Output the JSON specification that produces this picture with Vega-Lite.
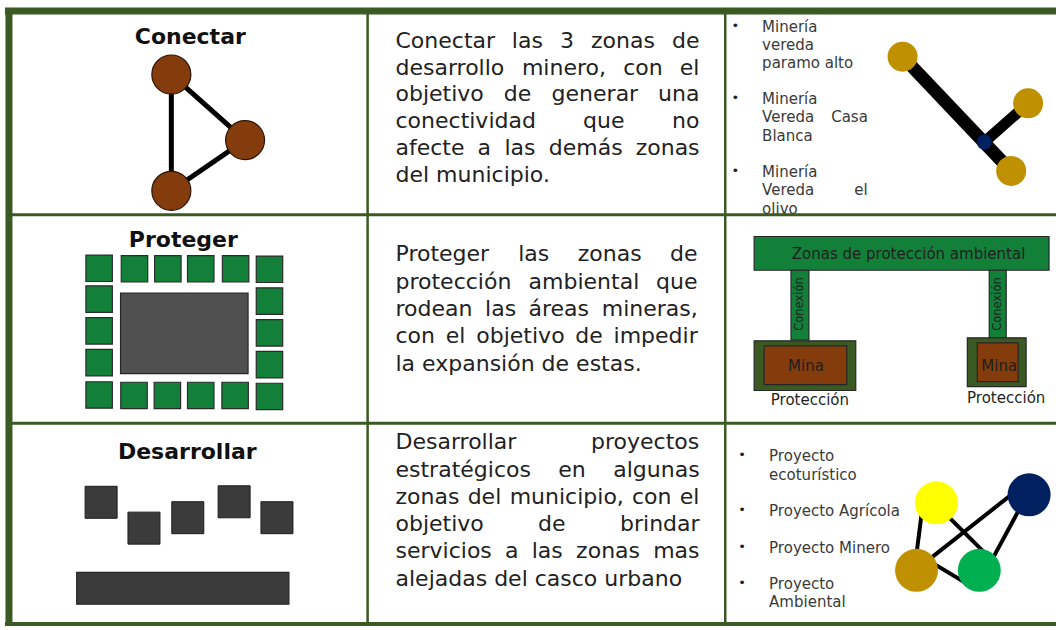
{
  "$schema": "https://vega.github.io/schema/vega-lite/v6.json",
  "width": 1060,
  "height": 630,
  "autosize": {"type": "fit", "contains": "padding"},
  "padding": 0,
  "background": "#ffffff",
  "config": {"view": {"stroke": null}},
  "datasets": {
    "rects": [
      {"x": 757, "x2": 1053, "y": 238, "y2": 272, "tipo": "zona"},
      {"x": 794, "x2": 812, "y": 272, "y2": 342, "tipo": "conexion"},
      {"x": 993, "x2": 1010, "y": 272, "y2": 340, "tipo": "conexion"},
      {"x": 757, "x2": 859, "y": 343, "y2": 393, "tipo": "proteccion"},
      {"x": 767, "x2": 850, "y": 348, "y2": 387, "tipo": "mina"},
      {"x": 971, "x2": 1030, "y": 340, "y2": 389, "tipo": "proteccion"},
      {"x": 981, "x2": 1022, "y": 345, "y2": 384, "tipo": "mina"},
      {"x": 121, "x2": 249, "y": 295, "y2": 376, "tipo": "area"},
      {"x": 77, "x2": 290, "y": 576, "y2": 608, "tipo": "base"}
    ],
    "verdes": [
      {"x": 99.5, "y": 270}, {"x": 135, "y": 270.5}, {"x": 168.5, "y": 270.5}, {"x": 201.5, "y": 270.5}, {"x": 236.5, "y": 270.5}, {"x": 270.5, "y": 271},
      {"x": 99.5, "y": 301}, {"x": 99.5, "y": 333}, {"x": 99.5, "y": 365},
      {"x": 270.5, "y": 303}, {"x": 270.5, "y": 335}, {"x": 270.5, "y": 367},
      {"x": 99.5, "y": 397.5}, {"x": 134.5, "y": 398}, {"x": 168, "y": 398}, {"x": 201.5, "y": 398}, {"x": 236, "y": 398}, {"x": 270.5, "y": 399}
    ],
    "edificios": [
      {"x": 101.5, "y": 505.5}, {"x": 144.5, "y": 531.5}, {"x": 188.5, "y": 521}, {"x": 235, "y": 505}, {"x": 278, "y": 521}
    ],
    "enlaces": [
      {"x": 172, "y": 75, "x2": 172, "y2": 192, "grupo": "conectar"},
      {"x": 172, "y": 75, "x2": 246, "y2": 141, "grupo": "conectar"},
      {"x": 246, "y": 141, "x2": 172, "y2": 192, "grupo": "conectar"},
      {"x": 906, "y": 57, "x2": 1015, "y2": 172, "grupo": "via"},
      {"x": 988, "y": 143, "x2": 1032, "y2": 104, "grupo": "ramal"},
      {"x": 926, "y": 510, "x2": 919, "y2": 565, "grupo": "proyectos"},
      {"x": 938, "y": 506, "x2": 990, "y2": 558, "grupo": "proyectos"},
      {"x": 920, "y": 573, "x2": 1020, "y2": 494, "grupo": "proyectos"},
      {"x": 1031, "y": 498, "x2": 990, "y2": 574, "grupo": "proyectos"},
      {"x": 935, "y": 566, "x2": 975, "y2": 590, "grupo": "proyectos"}
    ],
    "zonas": [
      {"x": 172, "y": 75}, {"x": 246, "y": 141}, {"x": 172, "y": 192}
    ],
    "nodos": [
      {"x": 906, "y": 57, "tipo": "Minería"},
      {"x": 1032, "y": 104, "tipo": "Minería"},
      {"x": 1015, "y": 172, "tipo": "Minería"},
      {"x": 988, "y": 143, "tipo": "Cruce"},
      {"x": 940, "y": 506, "tipo": "Proyecto ecoturístico"},
      {"x": 1033, "y": 498, "tipo": "Proyecto Agrícola"},
      {"x": 920, "y": 574, "tipo": "Proyecto Minero"},
      {"x": 983, "y": 574, "tipo": "Proyecto Ambiental"}
    ],
    "palabras": [
      {"t": "Conectar", "x": 397, "y": 41}, {"t": "las", "x": 513.8, "y": 41}, {"t": "3", "x": 562.1, "y": 41}, {"t": "zonas", "x": 593.3, "y": 41}, {"t": "de", "x": 674.5, "y": 41},
      {"t": "desarrollo", "x": 397, "y": 68}, {"t": "minero,", "x": 523.9, "y": 68}, {"t": "con", "x": 625.6, "y": 68}, {"t": "el", "x": 682.4, "y": 68},
      {"t": "objetivo", "x": 397, "y": 95}, {"t": "de", "x": 505.7, "y": 95}, {"t": "generar", "x": 553.7, "y": 95}, {"t": "una", "x": 660.6, "y": 95},
      {"t": "conectividad", "x": 397, "y": 122}, {"t": "que", "x": 585.3, "y": 122}, {"t": "no", "x": 674.6, "y": 122},
      {"t": "afecte", "x": 397, "y": 149}, {"t": "a", "x": 479.4, "y": 149}, {"t": "las", "x": 506.3, "y": 149}, {"t": "demás", "x": 550.8, "y": 149}, {"t": "zonas", "x": 638.1, "y": 149},
      {"t": "del municipio.", "x": 397, "y": 176},
      {"t": "Proteger", "x": 397, "y": 256}, {"t": "las", "x": 520.2, "y": 256}, {"t": "zonas", "x": 579.9, "y": 256}, {"t": "de", "x": 672.5, "y": 256},
      {"t": "protección", "x": 397, "y": 283.5}, {"t": "ambiental", "x": 530.6, "y": 283.5}, {"t": "que", "x": 658.6, "y": 283.5},
      {"t": "rodean", "x": 397, "y": 311}, {"t": "las", "x": 486.9, "y": 311}, {"t": "áreas", "x": 530.5, "y": 311}, {"t": "mineras,", "x": 604, "y": 311},
      {"t": "con", "x": 397, "y": 338.5}, {"t": "el", "x": 447.5, "y": 338.5}, {"t": "objetivo", "x": 478.1, "y": 338.5}, {"t": "de", "x": 577.4, "y": 338.5}, {"t": "impedir", "x": 615.9, "y": 338.5},
      {"t": "la expansión de estas.", "x": 397, "y": 366},
      {"t": "Desarrollar", "x": 397, "y": 445}, {"t": "proyectos", "x": 593.3, "y": 445},
      {"t": "estratégicos", "x": 397, "y": 472.5}, {"t": "en", "x": 560.3, "y": 472.5}, {"t": "algunas", "x": 615.6, "y": 472.5},
      {"t": "zonas", "x": 397, "y": 500}, {"t": "del", "x": 469.4, "y": 500}, {"t": "municipio,", "x": 511.6, "y": 500}, {"t": "con", "x": 634.3, "y": 500}, {"t": "el", "x": 682.4, "y": 500},
      {"t": "objetivo", "x": 397, "y": 527.5}, {"t": "de", "x": 540.1, "y": 527.5}, {"t": "brindar", "x": 622.4, "y": 527.5},
      {"t": "servicios", "x": 397, "y": 555}, {"t": "a", "x": 506.8, "y": 555}, {"t": "las", "x": 533.7, "y": 555}, {"t": "zonas", "x": 578.3, "y": 555}, {"t": "mas", "x": 655.6, "y": 555},
      {"t": "alejadas del casco urbano", "x": 397, "y": 582.5}
    ],
    "titulos": [
      {"t": "Conectar", "x": 191, "y": 37},
      {"t": "Proteger", "x": 184, "y": 242},
      {"t": "Desarrollar", "x": 188, "y": 455}
    ],
    "listas": [
      {"t": "Minería", "x": 765, "y": 27}, {"t": "vereda", "x": 765, "y": 45}, {"t": "paramo alto", "x": 765, "y": 63},
      {"t": "Minería", "x": 765, "y": 100}, {"t": "Vereda", "x": 765, "y": 118}, {"t": "Casa", "x": 834.3, "y": 118}, {"t": "Blanca", "x": 765, "y": 137},
      {"t": "Minería", "x": 765, "y": 173}, {"t": "Vereda", "x": 765, "y": 191}, {"t": "el", "x": 857.6, "y": 191}, {"t": "olivo", "x": 765, "y": 210},
      {"t": "Proyecto", "x": 772, "y": 459}, {"t": "ecoturístico", "x": 772, "y": 478},
      {"t": "Proyecto Agrícola", "x": 772, "y": 514},
      {"t": "Proyecto Minero", "x": 772, "y": 551},
      {"t": "Proyecto", "x": 772, "y": 588}, {"t": "Ambiental", "x": 772, "y": 606}
    ],
    "vinetas": [
      {"x": 738, "y": 26}, {"x": 738, "y": 99}, {"x": 738, "y": 172},
      {"x": 745, "y": 458}, {"x": 745, "y": 513}, {"x": 745, "y": 550}, {"x": 745, "y": 587}
    ],
    "etiquetas": [
      {"t": "Zonas de protección ambiental", "x": 912, "y": 256},
      {"t": "Mina", "x": 809, "y": 368},
      {"t": "Mina", "x": 1003, "y": 368},
      {"t": "Protección", "x": 813, "y": 403},
      {"t": "Protección", "x": 1010, "y": 401}
    ],
    "conexiones": [
      {"t": "Conexión", "x": 803, "y": 306},
      {"t": "Conexión", "x": 1001.5, "y": 306}
    ],
    "marco": [
      {"x": 5, "y": 11, "x2": 1060, "y2": 11, "tipo": "borde"},
      {"x": 9, "y": 8, "x2": 9, "y2": 630, "tipo": "borde"},
      {"x": 5, "y": 628, "x2": 1060, "y2": 628, "tipo": "base"},
      {"x": 9, "y": 216, "x2": 1060, "y2": 216, "tipo": "fila"},
      {"x": 9, "y": 426, "x2": 1060, "y2": 426, "tipo": "fila"},
      {"x": 369, "y": 11, "x2": 369, "y2": 628, "tipo": "columna"},
      {"x": 728, "y": 11, "x2": 728, "y2": 628, "tipo": "columna"}
    ]
  },
  "encoding": {
    "x": {"field": "x", "type": "quantitative", "scale": {"domain": [0, 1060], "nice": false, "zero": false}, "axis": null},
    "y": {"field": "y", "type": "quantitative", "scale": {"domain": [0, 630], "nice": false, "zero": false, "reverse": true}, "axis": null}
  },
  "layer": [
    {
      "data": {"name": "rects"},
      "mark": {"type": "rect", "stroke": "#262626", "strokeWidth": 1.2},
      "encoding": {
        "x2": {"field": "x2"},
        "y2": {"field": "y2"},
        "fill": {"field": "tipo", "type": "nominal", "legend": null,
          "scale": {"domain": ["zona", "conexion", "proteccion", "mina", "area", "base"],
                    "range": ["#138039", "#138039", "#3b5a23", "#843c0c", "#505050", "#3b3b3b"]}}
      }
    },
    {
      "data": {"name": "verdes"},
      "mark": {"type": "point", "shape": "square", "filled": true, "opacity": 1, "size": 700, "fill": "#138039", "stroke": "#2b2b2b", "strokeWidth": 1.2},
      "encoding": {}
    },
    {
      "data": {"name": "edificios"},
      "mark": {"type": "point", "shape": "square", "filled": true, "opacity": 1, "size": 1024, "fill": "#3b3b3b", "stroke": "#1e1e1e", "strokeWidth": 1},
      "encoding": {}
    },
    {
      "data": {"name": "enlaces"},
      "transform": [{"filter": "datum.grupo == 'conectar'"}],
      "mark": {"type": "rule", "color": "#000000", "strokeCap": "butt", "strokeWidth": 5},
      "encoding": {"x2": {"field": "x2"}, "y2": {"field": "y2"}}
    },
    {
      "data": {"name": "enlaces"},
      "transform": [{"filter": "datum.grupo == 'via'"}],
      "mark": {"type": "rule", "color": "#000000", "strokeCap": "butt", "strokeWidth": 13},
      "encoding": {"x2": {"field": "x2"}, "y2": {"field": "y2"}}
    },
    {
      "data": {"name": "enlaces"},
      "transform": [{"filter": "datum.grupo == 'ramal'"}],
      "mark": {"type": "rule", "color": "#000000", "strokeCap": "butt", "strokeWidth": 11},
      "encoding": {"x2": {"field": "x2"}, "y2": {"field": "y2"}}
    },
    {
      "data": {"name": "enlaces"},
      "transform": [{"filter": "datum.grupo == 'proyectos'"}],
      "mark": {"type": "rule", "color": "#000000", "strokeCap": "butt", "strokeWidth": 4},
      "encoding": {"x2": {"field": "x2"}, "y2": {"field": "y2"}}
    },
    {
      "data": {"name": "zonas"},
      "mark": {"type": "point", "shape": "circle", "filled": true, "opacity": 1, "size": 1521, "fill": "#843c0c", "stroke": "#2a1405", "strokeWidth": 1.2},
      "encoding": {}
    },
    {
      "data": {"name": "nodos"},
      "transform": [{"filter": "datum.tipo == 'Minería'"}],
      "mark": {"type": "point", "shape": "circle", "filled": true, "opacity": 1, "size": 900, "fill": "#bf9000"},
      "encoding": {}
    },
    {
      "data": {"name": "nodos"},
      "transform": [{"filter": "datum.tipo == 'Cruce'"}],
      "mark": {"type": "point", "shape": "circle", "filled": true, "opacity": 1, "size": 225, "fill": "#002060"},
      "encoding": {}
    },
    {
      "data": {"name": "nodos"},
      "transform": [{"filter": "indexof(datum.tipo, 'Proyecto') == 0"}],
      "mark": {"type": "point", "shape": "circle", "filled": true, "opacity": 1, "size": 1849},
      "encoding": {
        "fill": {"field": "tipo", "type": "nominal", "legend": null,
          "scale": {"domain": ["Proyecto ecoturístico", "Proyecto Agrícola", "Proyecto Minero", "Proyecto Ambiental"],
                    "range": ["#ffff00", "#002060", "#bf9000", "#00b050"]}}
      }
    },
    {
      "data": {"name": "palabras"},
      "mark": {"type": "text", "font": "DejaVu Sans", "fontSize": 22, "align": "left", "baseline": "middle", "color": "#222222"},
      "encoding": {"text": {"field": "t"}}
    },
    {
      "data": {"name": "titulos"},
      "mark": {"type": "text", "font": "DejaVu Sans", "fontSize": 22, "fontWeight": "bold", "align": "center", "baseline": "middle", "color": "#111111"},
      "encoding": {"text": {"field": "t"}}
    },
    {
      "data": {"name": "listas"},
      "mark": {"type": "text", "font": "DejaVu Sans", "fontSize": 15, "align": "left", "baseline": "middle", "color": "#3a3a3a"},
      "encoding": {"text": {"field": "t"}}
    },
    {
      "data": {"name": "vinetas"},
      "mark": {"type": "text", "font": "DejaVu Sans", "fontSize": 13, "align": "center", "baseline": "middle", "color": "#222222", "text": "•"},
      "encoding": {}
    },
    {
      "data": {"name": "etiquetas"},
      "mark": {"type": "text", "font": "DejaVu Sans", "fontSize": 15, "align": "center", "baseline": "middle", "color": "#1f1f1f"},
      "encoding": {"text": {"field": "t"}}
    },
    {
      "data": {"name": "conexiones"},
      "mark": {"type": "text", "font": "DejaVu Sans", "fontSize": 11.5, "align": "center", "baseline": "middle", "angle": 270, "color": "#1f1f1f"},
      "encoding": {"text": {"field": "t"}}
    },
    {
      "data": {"name": "marco"},
      "transform": [{"filter": "datum.tipo == 'borde'"}],
      "mark": {"type": "rule", "color": "#3b5a23", "strokeCap": "butt", "strokeWidth": 7},
      "encoding": {"x2": {"field": "x2"}, "y2": {"field": "y2"}}
    },
    {
      "data": {"name": "marco"},
      "transform": [{"filter": "datum.tipo == 'base'"}],
      "mark": {"type": "rule", "color": "#3b5a23", "strokeCap": "butt", "strokeWidth": 4},
      "encoding": {"x2": {"field": "x2"}, "y2": {"field": "y2"}}
    },
    {
      "data": {"name": "marco"},
      "transform": [{"filter": "datum.tipo == 'fila'"}],
      "mark": {"type": "rule", "color": "#3b5a23", "strokeCap": "butt", "strokeWidth": 3},
      "encoding": {"x2": {"field": "x2"}, "y2": {"field": "y2"}}
    },
    {
      "data": {"name": "marco"},
      "transform": [{"filter": "datum.tipo == 'columna'"}],
      "mark": {"type": "rule", "color": "#3b5a23", "strokeCap": "butt", "strokeWidth": 2.5},
      "encoding": {"x2": {"field": "x2"}, "y2": {"field": "y2"}}
    }
  ],
  "resolve": {"scale": {"fill": "independent"}}
}
